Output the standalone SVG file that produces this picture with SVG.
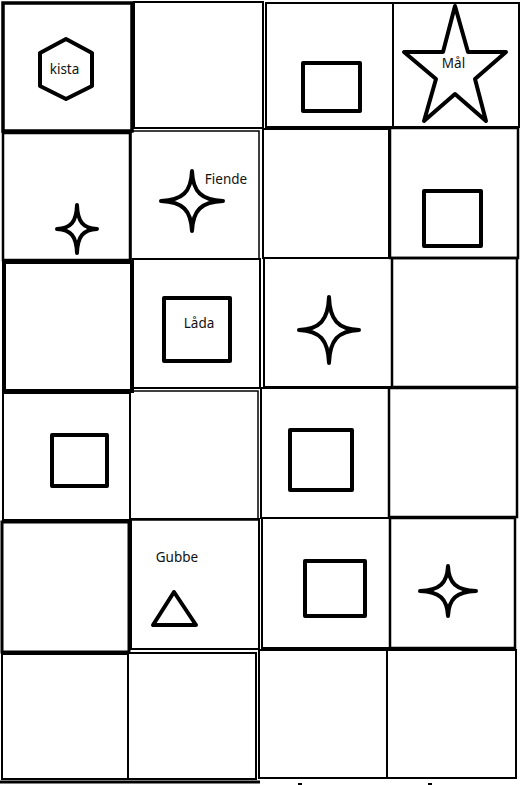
<svg xmlns="http://www.w3.org/2000/svg" width="522" height="785" viewBox="0 0 522 785">
<style>
.cell{fill:none;stroke:#000;stroke-width:2}
.shape{fill:none;stroke:#000;stroke-width:4;stroke-linejoin:round}
.lbl{font-family:"Noto Sans","Open Sans",sans-serif;font-size:13.5px;fill:#111;text-anchor:middle}
</style>
<rect x="0" y="0" width="522" height="785" fill="#fff"/>
<g id="cell-r1c1"><rect class="cell" x="3" y="3" width="129" height="128" style="stroke-width:3.5"/>
<polygon class="shape" points="66,39 92,53 92,86 66,99 40,86 40,53"/>
<text class="lbl" x="64.5" y="74">kista</text></g>
<g id="cell-r1c2"><rect class="cell" x="134" y="2" width="129" height="126"/></g>
<g id="cell-r1c3"><rect class="cell" x="266" y="3" width="127" height="124"/>
<rect class="shape" x="303" y="63" width="57" height="48"/></g>
<g id="cell-r1c4"><rect class="cell" x="393" y="3" width="126" height="124"/>
<polygon class="shape" points="455,6 468,52 506,52 475,79 486,121 455,94 424,121 436,79 404,52 443,52"/>
<text class="lbl" x="453.5" y="68">Mål</text></g>

<g id="cell-r2c1"><rect class="cell" x="3" y="133" width="127" height="127" style="stroke-width:2.5"/>
<path class="shape" d="M77,205 C77.6,221.8 83,228.28 97,229 C83,229.72 77.6,236.2 77,253 C76.4,236.2 71,229.72 57,229 C71,228.28 76.4,221.8 77,205 Z"/></g>
<g id="cell-r2c2"><rect class="cell" x="131" y="131" width="128" height="128" style="stroke-width:1.5"/>
<path class="shape" d="M192,171 C192.93,192 201.3,200.1 223,201 C201.3,201.9 192.93,210 192,231 C191.07,210 182.7,201.9 161,201 C182.7,200.1 191.07,192 192,171 Z"/>
<text class="lbl" x="226" y="184">Fiende</text></g>
<g id="cell-r2c3"><rect class="cell" x="263" y="129" width="126" height="129"/></g>
<g id="cell-r2c4"><rect class="cell" x="390" y="128" width="128" height="130" style="stroke-width:2.5"/>
<rect class="shape" x="424" y="191" width="57" height="55"/></g>

<g id="cell-r3c1"><rect class="cell" x="4" y="262" width="128" height="129" style="stroke-width:4"/></g>
<g id="cell-r3c2"><rect class="cell" x="133" y="259" width="127" height="129"/>
<rect class="shape" x="164" y="298" width="66" height="63"/>
<text class="lbl" x="199" y="328">Låda</text></g>
<g id="cell-r3c3"><rect class="cell" x="264" y="258" width="128" height="129"/>
<path class="shape" d="M329,297 C329.9,320.1 338,329.01 359,330 C338,330.99 329.9,339.9 329,363 C328.1,339.9 320,330.99 299,330 C320,329.01 328.1,320.1 329,297 Z"/></g>
<g id="cell-r3c4"><rect class="cell" x="392" y="258" width="125" height="129" style="stroke-width:2.5"/></g>

<g id="cell-r4c1"><rect class="cell" x="3" y="393" width="127" height="127"/>
<rect class="shape" x="52" y="435" width="55" height="51"/></g>
<g id="cell-r4c2"><rect class="cell" x="130" y="391" width="128" height="129" style="stroke-width:1.5"/></g>
<g id="cell-r4c3"><rect class="cell" x="261" y="388" width="128" height="130"/>
<rect class="shape" x="290" y="430" width="62" height="60"/></g>
<g id="cell-r4c4"><rect class="cell" x="389" y="388" width="128" height="129" style="stroke-width:2.5"/></g>

<g id="cell-r5c1"><rect class="cell" x="2" y="522" width="127" height="130" style="stroke-width:3"/></g>
<g id="cell-r5c2"><rect class="cell" x="131" y="519" width="128" height="130"/>
<polygon class="shape" points="174,592 153,625 196,625"/>
<text class="lbl" x="177" y="562">Gubbe</text></g>
<g id="cell-r5c3"><rect class="cell" x="262" y="518" width="128" height="130"/>
<rect class="shape" x="305" y="561" width="60" height="55"/></g>
<g id="cell-r5c4"><rect class="cell" x="390" y="518" width="125" height="130" style="stroke-width:2.5"/>
<path class="shape" d="M448,566 C448.84,583.5 456.4,590.25 476,591 C456.4,591.75 448.84,598.5 448,616 C447.16,598.5 439.6,591.75 420,591 C439.6,590.25 447.16,583.5 448,566 Z"/></g>

<g id="cell-r6c1"><rect class="cell" x="2" y="654" width="126" height="125"/></g>
<g id="cell-r6c2"><rect class="cell" x="128" y="653" width="128" height="126"/></g>
<g id="cell-r6c3"><rect class="cell" x="259" y="650" width="128" height="128"/></g>
<g id="cell-r6c4"><rect class="cell" x="387" y="650" width="129" height="128"/></g>

<g id="edge-marks">
<line x1="0" y1="782" x2="260" y2="782" stroke="#000" stroke-width="3"/>
<line x1="298" y1="784" x2="302" y2="784" stroke="#000" stroke-width="2"/>
<line x1="428" y1="784" x2="432" y2="784" stroke="#000" stroke-width="2"/>
</g>
</svg>
